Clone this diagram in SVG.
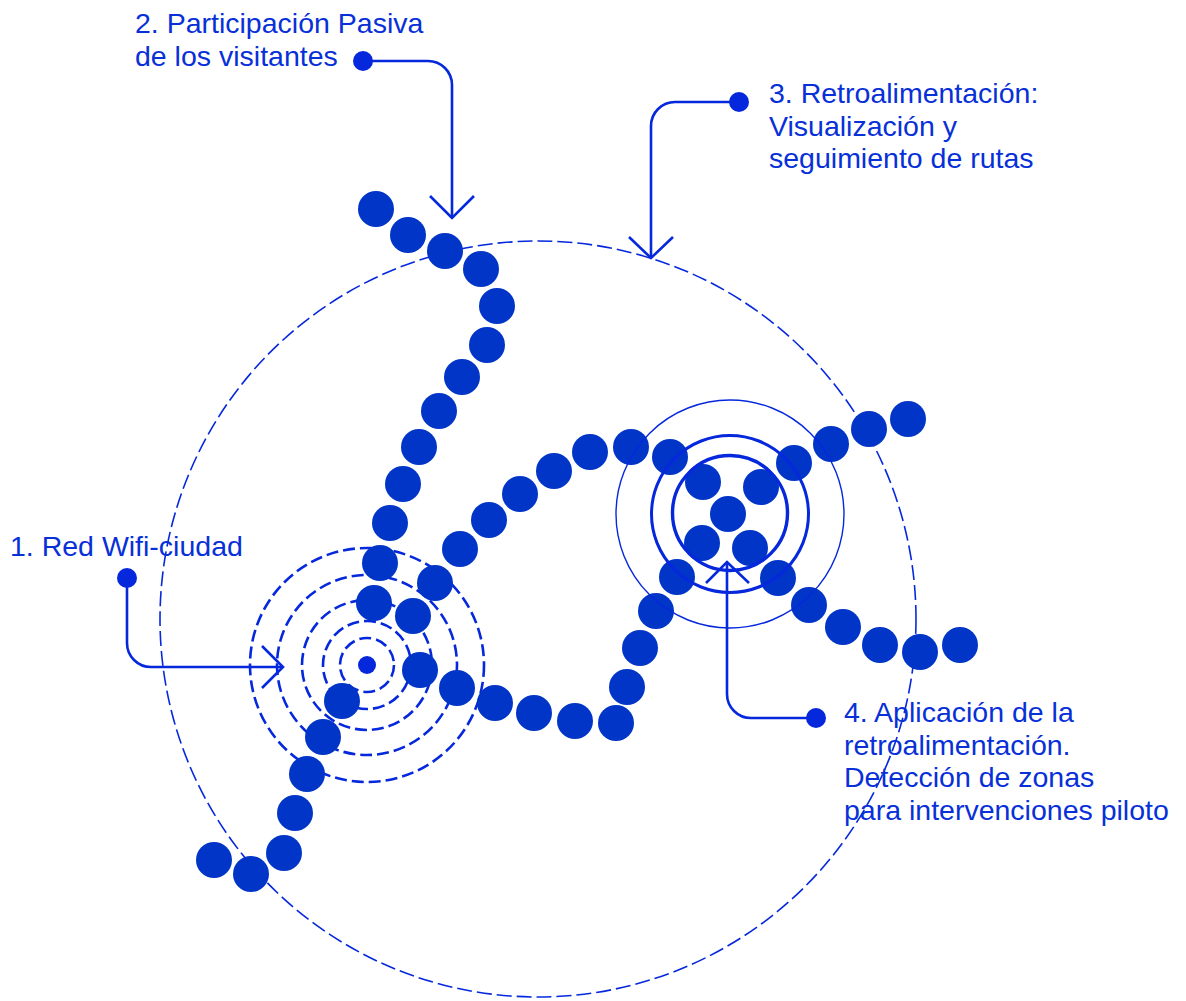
<svg xmlns="http://www.w3.org/2000/svg" width="1186" height="1001" viewBox="0 0 1186 1001">
  <style>
    .lbl { font-family: "Liberation Sans", Arial, sans-serif; font-size: 28.5px; fill: #0830D8; }
    .dot { fill: #0035C8; }
    .pin { fill: #0628DC; }
    .wire { fill: none; stroke: #0628DC; stroke-width: 2.6; stroke-linecap: butt; stroke-linejoin: miter; }
    .ring { fill: none; stroke: #0628DC; stroke-width: 2.6; stroke-dasharray: 12 5; }
    .outer { fill: none; stroke: #0628DC; stroke-width: 1.6; stroke-dasharray: 15 5; }
    .halo { fill: none; stroke: #0628DC; }
  </style>

  <!-- large dashed boundary -->
  <g id="boundary">
    <circle class="outer" cx="538" cy="619" r="378"/>
  </g>

  <!-- wifi emitter: dashed concentric rings -->
  <g id="wifi-rings">
    <circle class="ring" cx="367" cy="665" r="27"/>
    <circle class="ring" cx="367" cy="665" r="44"/>
    <circle class="ring" cx="367" cy="665" r="65"/>
    <circle class="ring" cx="367" cy="665" r="90"/>
    <circle class="ring" cx="367" cy="665" r="117"/>
    <circle class="pin" cx="367" cy="665" r="9"/>
  </g>

  <!-- visitor route dots -->
  <g id="routes">
    <g id="route-north">
      <circle class="dot" cx="376" cy="209" r="18"/>
      <circle class="dot" cx="408" cy="235" r="18"/>
      <circle class="dot" cx="445" cy="251" r="18"/>
      <circle class="dot" cx="481" cy="269" r="18"/>
      <circle class="dot" cx="497" cy="306" r="18"/>
      <circle class="dot" cx="487" cy="345" r="18"/>
      <circle class="dot" cx="462" cy="377" r="18"/>
      <circle class="dot" cx="439" cy="411" r="18"/>
      <circle class="dot" cx="419" cy="447" r="18"/>
      <circle class="dot" cx="403" cy="484" r="18"/>
      <circle class="dot" cx="390" cy="523" r="18"/>
      <circle class="dot" cx="380" cy="563" r="18"/>
      <circle class="dot" cx="374" cy="603" r="18"/>
      <circle class="dot" cx="413" cy="616" r="18"/>
      <circle class="dot" cx="435" cy="583" r="18"/>
    </g>
    <g id="route-south">
      <circle class="dot" cx="342" cy="701" r="18"/>
      <circle class="dot" cx="323" cy="737" r="18"/>
      <circle class="dot" cx="307" cy="774" r="18"/>
      <circle class="dot" cx="295" cy="813" r="18"/>
      <circle class="dot" cx="284" cy="853" r="18"/>
      <circle class="dot" cx="251" cy="874" r="18"/>
      <circle class="dot" cx="214" cy="860" r="18"/>
    </g>
    <g id="route-loop">
      <circle class="dot" cx="420" cy="670" r="18"/>
      <circle class="dot" cx="457" cy="688" r="18"/>
      <circle class="dot" cx="495" cy="703" r="18"/>
      <circle class="dot" cx="534" cy="713" r="18"/>
      <circle class="dot" cx="575" cy="721" r="18"/>
      <circle class="dot" cx="616" cy="723" r="18"/>
      <circle class="dot" cx="627" cy="687" r="18"/>
      <circle class="dot" cx="640" cy="648" r="18"/>
      <circle class="dot" cx="656" cy="611" r="18"/>
      <circle class="dot" cx="677" cy="577" r="18"/>
    </g>
    <g id="route-east">
      <circle class="dot" cx="460" cy="549" r="18"/>
      <circle class="dot" cx="489" cy="520" r="18"/>
      <circle class="dot" cx="520" cy="494" r="18"/>
      <circle class="dot" cx="554" cy="471" r="18"/>
      <circle class="dot" cx="590" cy="452" r="18"/>
      <circle class="dot" cx="631" cy="447" r="18"/>
      <circle class="dot" cx="670" cy="457" r="18"/>
      <circle class="dot" cx="703" cy="482" r="18"/>
      <circle class="dot" cx="761" cy="487" r="18"/>
      <circle class="dot" cx="728" cy="514" r="18"/>
      <circle class="dot" cx="702" cy="543" r="18"/>
      <circle class="dot" cx="750" cy="548" r="18"/>
      <circle class="dot" cx="778" cy="578" r="18"/>
      <circle class="dot" cx="794" cy="463" r="18"/>
      <circle class="dot" cx="831" cy="444" r="18"/>
      <circle class="dot" cx="869" cy="429" r="18"/>
      <circle class="dot" cx="908" cy="419" r="18"/>
      <circle class="dot" cx="809" cy="605" r="18"/>
      <circle class="dot" cx="843" cy="627" r="18"/>
      <circle class="dot" cx="880" cy="645" r="18"/>
      <circle class="dot" cx="920" cy="652" r="18"/>
      <circle class="dot" cx="960" cy="645" r="18"/>
    </g>
  </g>

  <!-- detected hotspot: solid concentric rings -->
  <g id="hotspot">
    <circle class="halo" cx="730" cy="514" r="114" stroke-width="1.4"/>
    <circle class="halo" cx="730" cy="514" r="78.5" stroke-width="3"/>
    <circle class="halo" cx="730" cy="513" r="57.5" stroke-width="3.4"/>
  </g>

  <!-- leader lines with open arrowheads -->
  <g id="connectors">
    <path class="wire" d="M127,578 V643 A24,24 0 0 0 151,667 H283"/>
    <path class="wire" d="M262,646 L283,667 L262,688"/>
    <path class="wire" d="M363,61 H428 A24,24 0 0 1 452,85 V218"/>
    <path class="wire" d="M430,196 L452,218 L474,196"/>
    <path class="wire" d="M739,102 H675 A24,24 0 0 0 651,126 V258"/>
    <path class="wire" d="M629,237 L651,258 L673,237"/>
    <path class="wire" d="M817,718 H751 A24,24 0 0 1 727,694 V562"/>
    <path class="wire" d="M706,583 L727,562 L749,583"/>
  </g>

  <!-- labels -->
  <g id="label-1">
    <circle class="pin" cx="127" cy="578" r="10"/>
    <text class="lbl" x="10" y="556">1. Red Wifi-ciudad</text>
  </g>
  <g id="label-2">
    <circle class="pin" cx="363" cy="61" r="10"/>
    <text class="lbl" x="135" y="33">2. Participación Pasiva</text>
    <text class="lbl" x="135" y="66">de los visitantes</text>
  </g>
  <g id="label-3">
    <circle class="pin" cx="739" cy="102" r="10"/>
    <text class="lbl" x="769" y="103">3. Retroalimentación:</text>
    <text class="lbl" x="769" y="136">Visualización y</text>
    <text class="lbl" x="769" y="168">seguimiento de rutas</text>
  </g>
  <g id="label-4">
    <circle class="pin" cx="816" cy="718" r="10"/>
    <text class="lbl" x="844" y="722">4. Aplicación de la</text>
    <text class="lbl" x="844" y="755">retroalimentación.</text>
    <text class="lbl" x="844" y="787">Detección de zonas</text>
    <text class="lbl" x="844" y="820">para intervenciones piloto</text>
  </g>
</svg>
